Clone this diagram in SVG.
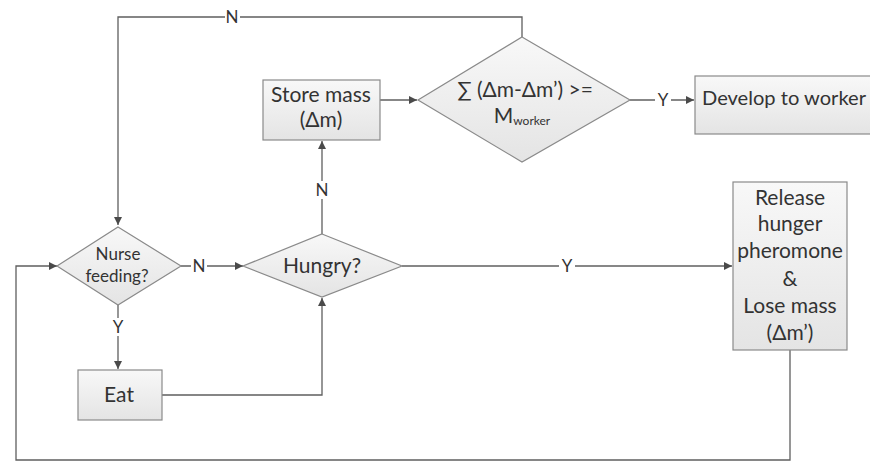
<svg xmlns="http://www.w3.org/2000/svg" width="870" height="462" viewBox="0 0 870 462">
  <style>
    .shape { fill: url(#boxFill); stroke: #8a8a8a; stroke-width: 1.2; }
    .wire { fill: none; stroke: #5f5f5f; stroke-width: 1.3; }
    .lbl { font-family: Lato, "Open Sans", "Liberation Sans", sans-serif; fill: #333333; text-anchor: middle; font-size: 21px; }
    .tag { font-family: Lato, "Open Sans", "Liberation Sans", sans-serif; fill: #333333; font-size: 17px; text-anchor: middle; }
    .tagbg { fill: #ffffff; }
  </style>
  <defs>
    <linearGradient id="boxFill" x1="0" y1="0" x2="0" y2="1">
      <stop offset="0" stop-color="#f8f8f8"/>
      <stop offset="1" stop-color="#e4e4e4"/>
    </linearGradient>
    <marker id="arrow" viewBox="0 0 10 10" refX="10" refY="5" markerWidth="8" markerHeight="8" markerUnits="userSpaceOnUse" orient="auto">
      <path d="M0,0 L10,5 L0,10 z" fill="#4a4a4a"/>
    </marker>
  </defs>

  <rect width="870" height="462" fill="#ffffff"/>

  <!-- connectors -->
  <g id="connectors">
    <!-- sum check N: back to nurse feeding -->
    <path class="wire" d="M522,37 V17 H118 V225" marker-end="url(#arrow)"/>
    <!-- nurse feeding N -> hungry -->
    <path class="wire" d="M181,266 H243" marker-end="url(#arrow)"/>
    <!-- nurse feeding Y -> eat -->
    <path class="wire" d="M118,305 V369" marker-end="url(#arrow)"/>
    <!-- eat -> hungry -->
    <path class="wire" d="M162,395 H322 V298" marker-end="url(#arrow)"/>
    <!-- hungry N -> store mass -->
    <path class="wire" d="M322,234 V141" marker-end="url(#arrow)"/>
    <!-- store mass -> sum check -->
    <path class="wire" d="M380,100 H417" marker-end="url(#arrow)"/>
    <!-- sum check Y -> develop -->
    <path class="wire" d="M630,100 H694" marker-end="url(#arrow)"/>
    <!-- hungry Y -> release -->
    <path class="wire" d="M402,266 H732" marker-end="url(#arrow)"/>
    <!-- release -> loop back to nurse feeding -->
    <path class="wire" d="M790,350 V460 H16 V266 H57" marker-end="url(#arrow)"/>

    <!-- branch labels -->
    <rect class="tagbg" x="225" y="8" width="15" height="18"/>
    <text class="tag" x="232" y="23">N</text>
    <rect class="tagbg" x="191" y="257" width="16" height="18"/>
    <text class="tag" x="199" y="272">N</text>
    <rect class="tagbg" x="111" y="318" width="15" height="18"/>
    <text class="tag" x="118" y="333">Y</text>
    <rect class="tagbg" x="315" y="181" width="15" height="18"/>
    <text class="tag" x="322" y="196">N</text>
    <rect class="tagbg" x="655" y="91" width="16" height="18"/>
    <text class="tag" x="663" y="106">Y</text>
    <rect class="tagbg" x="559" y="257" width="16" height="18"/>
    <text class="tag" x="567" y="272">Y</text>
  </g>

  <!-- nodes -->
  <g id="nurse-feeding">
    <polygon class="shape" points="118,227 181,266 118,305 57,266"/>
    <text class="lbl" x="118" y="260" style="font-size:17px">Nurse</text>
    <text class="lbl" x="117" y="282" style="font-size:17px">feeding?</text>
  </g>

  <g id="hungry">
    <polygon class="shape" points="322,234 402,266 322,297 243,266"/>
    <text class="lbl" x="322" y="273">Hungry?</text>
  </g>

  <g id="eat">
    <rect class="shape" x="78" y="370" width="84" height="50"/>
    <text class="lbl" x="119" y="402">Eat</text>
  </g>

  <g id="store-mass">
    <rect class="shape" x="263" y="80" width="117" height="60"/>
    <text class="lbl" x="321" y="102">Store mass</text>
    <text class="lbl" x="321" y="127">(Δm)</text>
  </g>

  <g id="sum-check">
    <polygon class="shape" points="522,37 630,100 522,162 418,100"/>
    <text class="lbl" x="525" y="97">∑ (Δm-Δm’) &gt;=</text>
    <text class="lbl" x="522" y="123">M<tspan style="font-size:12px" dy="2">worker</tspan></text>
  </g>

  <g id="develop-worker">
    <rect class="shape" x="695" y="76" width="180" height="58"/>
    <text class="lbl" x="702" y="105" style="text-anchor:start;font-size:20px" textLength="164" lengthAdjust="spacingAndGlyphs">Develop to worker</text>
  </g>

  <g id="release-hunger">
    <rect class="shape" x="733" y="182" width="114" height="168"/>
    <text class="lbl" x="790" y="205">Release</text>
    <text class="lbl" x="790" y="231">hunger</text>
    <text class="lbl" x="790" y="258">pheromone</text>
    <text class="lbl" x="790" y="286">&amp;</text>
    <text class="lbl" x="790" y="313">Lose mass</text>
    <text class="lbl" x="790" y="340">(Δm’)</text>
  </g>
</svg>
